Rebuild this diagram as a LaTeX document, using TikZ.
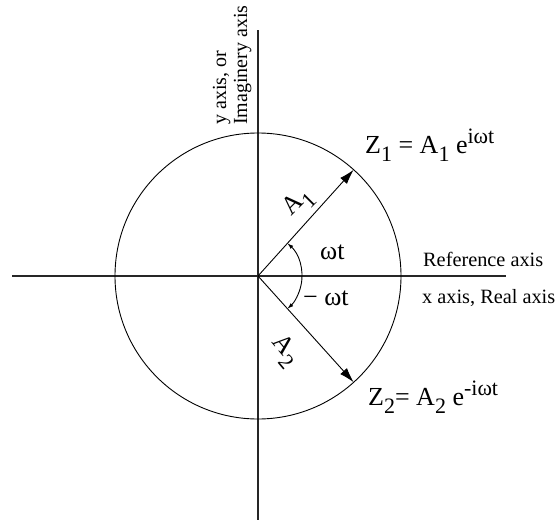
\documentclass[tikz,border=0pt]{standalone}
\usepackage{fontspec}
\setmainfont{Liberation Serif}
\usetikzlibrary{arrows.meta,calc}
\newcommand\lsub[1]{\raisebox{-8pt}{\fontsize{22}{22}\selectfont #1}}
\newcommand\lsup[1]{\raisebox{10pt}{\fontsize{22}{22}\selectfont #1}}
\begin{document}
\begin{tikzpicture}[x=1pt,y=1pt,
  axis/.style={line width=1.3pt, black!85},
  ring/.style={line width=0.9pt},
  vec/.style={line width=0.9pt, -{Latex[length=15pt,width=9pt]}},
  angarc/.style={line width=0.9pt, {Latex[length=6pt,width=4pt]}-{Latex[length=6pt,width=4pt]}},
  lab/.style={font=\fontsize{20}{20}\selectfont, inner sep=0pt},
  hlab/.style={font=\fontsize{20.3}{20.3}\selectfont, inner sep=0pt},
  biglab/.style={font=\fontsize{26}{26}\selectfont, inner sep=0pt}]
\useasboundingbox (0,0) rectangle (557,-522);
\coordinate (O) at (258,-276);
\coordinate (Ytop) at (258,-30);
\coordinate (Ybot) at (258,-520);
\coordinate (Xl) at (12,-276);
\coordinate (Xr) at (506,-276);
\coordinate (P1) at ($(O)+(48:143)$);
\coordinate (P2) at ($(O)+(-48:143)$);
% axes
\draw[axis] (Ytop) -- (Ybot);
\draw[axis] (Xl) -- (Xr);
% circle
\draw[ring] (O) circle[radius=143];
% vectors
\draw[vec] (O) -- (P1);
\draw[vec] (O) -- (P2);
% angle arc
\draw[angarc] ($(O)+(48:44)$) arc[start angle=48, end angle=-48, radius=44];
% labels
\node[lab, anchor=base west, rotate=90] (ylab1) at (226,-125) {y axis, or};
\node[lab, anchor=base west, rotate=90] (ylab2) at (247,-125) {Imaginery axis};
\node[hlab, anchor=base west] (ref) at (423,-266) {Reference axis};
\node[hlab, anchor=base west] (xlab) at (422,-303) {x axis, Real axis};
\node[biglab, anchor=base west] (z1) at (365,-153) {Z\lsub{1} = A\lsub{1} e\lsup{iωt}};
\node[biglab, anchor=base west] (z2) at (368,-405) {Z\lsub{2}= A\lsub{2} e\lsup{-iωt}};
\node[biglab, anchor=base west] (wt) at (320,-259) {ωt};
\node[biglab, anchor=base west] (mwt) at (303,-305) {− ωt};
\node[biglab, rotate=45] (a1) at (299,-203) {A\lsub{1}};
\node[biglab, rotate=-50] (a2) at (285,-351) {A\lsub{2}};
\end{tikzpicture}
\end{document}
